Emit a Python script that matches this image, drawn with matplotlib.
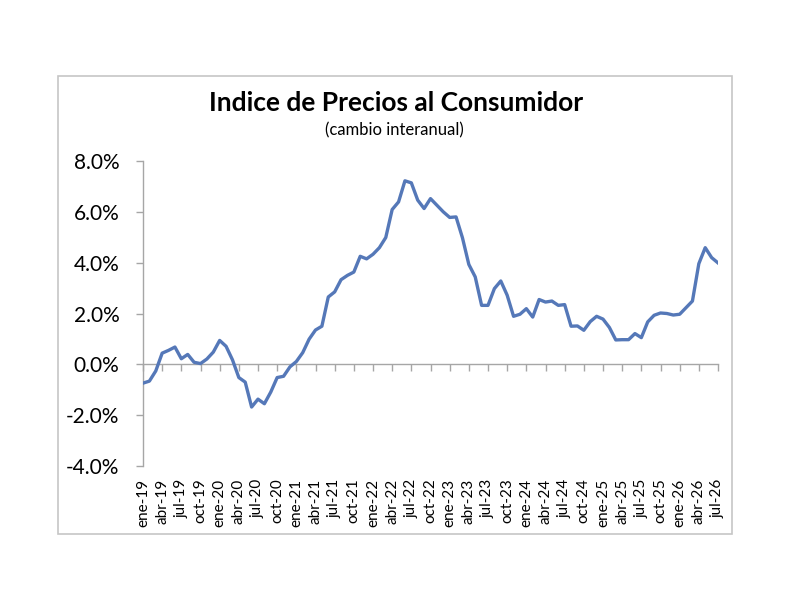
import matplotlib
matplotlib.use("Agg")
import matplotlib.pyplot as plt
from matplotlib.patches import Rectangle
from matplotlib.ticker import FuncFormatter, FixedLocator

plt.rcParams['font.family'] = ['Lato', 'DejaVu Sans']

months = ['ene', 'feb', 'mar', 'abr', 'may', 'jun', 'jul', 'ago', 'sep', 'oct', 'nov', 'dic']
years = ['19', '20', '21', '22', '23', '24', '25', '26']
dates = [f"{m}-{y}" for y in years for m in months][:91]

ipc = [-0.74, -0.66, -0.26, 0.44, 0.55, 0.68, 0.22, 0.39, 0.08, 0.03, 0.21, 0.48,
       0.94, 0.71, 0.18, -0.52, -0.70, -1.68, -1.37, -1.55, -1.09, -0.52, -0.47, -0.10,
       0.11, 0.46, 0.99, 1.35, 1.50, 2.65, 2.85, 3.33, 3.50, 3.63, 4.25, 4.15,
       4.33, 4.59, 4.99, 6.09, 6.39, 7.22, 7.14, 6.46, 6.13, 6.52, 6.26, 6.00,
       5.78, 5.80, 4.98, 3.93, 3.44, 2.32, 2.32, 2.98, 3.28, 2.72, 1.89, 1.97,
       2.19, 1.86, 2.55, 2.45, 2.49, 2.32, 2.35, 1.50, 1.51, 1.34, 1.68, 1.89,
       1.78, 1.45, 0.96, 0.97, 0.97, 1.21, 1.05, 1.67, 1.93, 2.02, 2.00, 1.94,
       1.97, 2.23, 2.49, 3.96, 4.59, 4.20, 3.99]

y_ticks = [-4, -2, 0, 2, 4, 6, 8]

W, H = 792, 612
fig = plt.figure(figsize=(W / 100, H / 100), dpi=100)
fig.patch.set_facecolor('white')

fig.patches.append(Rectangle((58 / W, 1 - 534 / H), (732 - 58) / W, (534 - 76) / H,
                             transform=fig.transFigure, fill=False,
                             edgecolor='#c6c6c6', linewidth=1.2))

ax = fig.add_axes([143 / W, 1 - 466 / H, (718 - 143) / W, (466 - 161) / H])
x = list(range(len(ipc)))
ax.plot(x, ipc, color='#5578B8', linewidth=2.4, solid_joinstyle='round', zorder=3)
ax.set_xlim(0, len(ipc) - 1)
ax.set_ylim(-4, 8)

for s in ['top', 'right']:
    ax.spines[s].set_visible(False)
ax.spines['left'].set_color('#a6a6a6')
ax.spines['left'].set_linewidth(1.0)
ax.spines['bottom'].set_position(('data', 0))
ax.spines['bottom'].set_color('#a6a6a6')
ax.spines['bottom'].set_linewidth(1.0)

ax.yaxis.set_major_locator(FixedLocator(y_ticks))
ax.yaxis.set_major_formatter(FuncFormatter(lambda v, p: f"{v:.1f}%"))
ax.tick_params(axis='y', direction='out', length=5, width=1.0, color='#a6a6a6',
               labelsize=15, pad=12, labelcolor='black')

qpos = list(range(0, len(ipc), 3))
ax.set_xticks(qpos)
ax.set_xticklabels([])
ax.tick_params(axis='x', direction='out', length=5, width=1.0, color='#a6a6a6')

sec = ax.secondary_xaxis('bottom')
sec.spines['bottom'].set_visible(False)
sec.set_xticks(qpos)
sec.set_xticklabels([dates[i] for i in qpos], rotation=90, fontsize=11)
sec.tick_params(axis='x', length=0, pad=9, labelcolor='black')

fig.text(396 / W, 1 - 103 / H, 'Indice de Precios al Consumidor', ha='center', va='center',
         fontsize=19, fontweight='bold')
fig.text(394 / W, 1 - 130 / H, '(cambio interanual)', ha='center', va='center', fontsize=12)

fig.savefig('out.png', dpi=100, facecolor='white')
